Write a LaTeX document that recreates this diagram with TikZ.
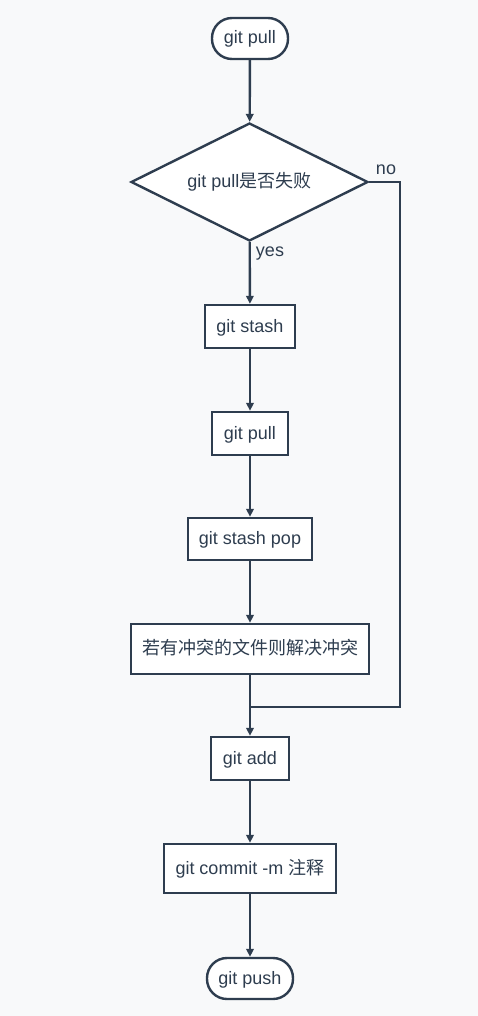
\documentclass[tikz,border=0pt]{standalone}
\usepackage{fontspec}
\setmainfont{Liberation Sans}
\newfontfamily\cjk{Noto Sans CJK SC}
\usetikzlibrary{arrows.meta,shapes.geometric}
\definecolor{ink}{HTML}{2E3D4F}
\definecolor{bg}{HTML}{F8F9FA}
\begin{document}
\begin{tikzpicture}[x=1pt,y=-1pt,
  every node/.style={font=\fontsize{18}{21}\selectfont, text=ink},
  box/.style={draw=ink, line width=2.4pt, fill=white, inner sep=0pt, text height=14pt, text depth=3pt},
  term/.style={box, rounded corners=20pt},
  dia/.style={box, diamond, aspect=2},
  arr/.style={draw=ink, line width=2.4pt, -{Triangle[length=8pt,width=7.5pt]}},
  ln/.style={draw=ink, line width=2.4pt}]
\fill[bg] (0,0) rectangle (478,1016);
\useasboundingbox (0,0) rectangle (478,1016);
\node[term, minimum width=76pt, minimum height=41pt] (s) at (250,38.5) {git pull};
\node[dia, minimum width=237pt, minimum height=118pt] (d) at (249.5,182) {git pull{\cjk 是否失败}};
\node[box, minimum width=90pt, minimum height=43pt] (st) at (250,326.5) {git stash};
\node[box, minimum width=76pt, minimum height=43pt] (p) at (250,433.5) {git pull};
\node[box, minimum width=124pt, minimum height=42pt] (sp) at (250,539) {git stash pop};
\node[box, minimum width=238pt, minimum height=50pt] (c) at (250,649) {\cjk 若有冲突的文件则解决冲突};
\node[box, minimum width=78pt, minimum height=43pt] (a) at (250,758.5) {git add};
\node[box, minimum width=172pt, minimum height=49pt] (cm) at (250,868.5) {git commit -m {\cjk 注释}};
\node[term, minimum width=86pt, minimum height=41pt] (pu) at (250,978.5) {git push};
\coordinate (j) at (250,707);
\draw[arr] (s) -- (d);
\draw[arr] (d) -- (st);
\draw[arr] (st) -- (p);
\draw[arr] (p) -- (sp);
\draw[arr] (sp) -- (c);
\draw[arr] (c) -- (a);
\draw[arr] (a) -- (cm);
\draw[arr] (cm) -- (pu);
\draw[ln] (d.east) -- ++(31,0) |- (j);
\node (no) at (386,170) {no};
\node (yes) at (270,254) {yes};
\end{tikzpicture}
\end{document}
